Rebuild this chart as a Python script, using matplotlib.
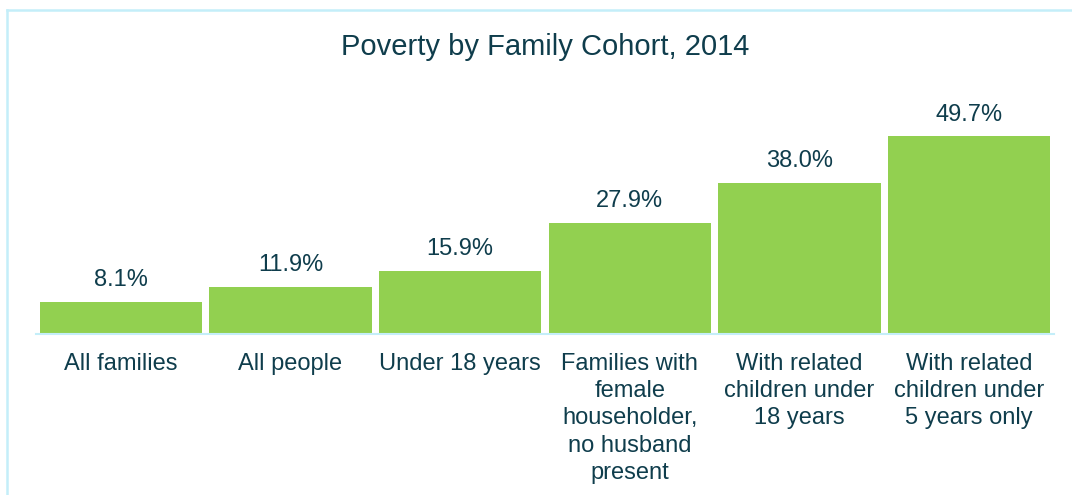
import matplotlib
matplotlib.use('Agg')
import matplotlib.pyplot as plt
from matplotlib.lines import Line2D

categories = ["All families", "All people", "Under 18 years",
              "Families with\nfemale\nhouseholder,\nno husband\npresent",
              "With related\nchildren under\n18 years",
              "With related\nchildren under\n5 years only"]
values = [8.1, 11.9, 15.9, 27.9, 38.0, 49.7]
value_labels = ["8.1%", "11.9%", "15.9%", "27.9%", "38.0%", "49.7%"]

text_color = "#0f3d4c"
bar_color = "#92d050"
line_color = "#c4eef9"

plt.rcParams['font.family'] = ['Liberation Sans', 'DejaVu Sans']

fig = plt.figure(figsize=(10.72, 4.95), dpi=100)
W, H = 1072, 495
# axes in pixel coords: x 36..1054, y baseline 334, top 95
ax = fig.add_axes([36 / W, 1 - 334 / H, (1054 - 36) / W, (334 - 95.2) / H])

x = range(len(categories))
ax.bar(x, values, width=0.955, color=bar_color)
ax.set_xlim(-0.5, len(categories) - 0.5)
ax.set_ylim(0, 60)

for xi, v, lab in zip(x, values, value_labels):
    ax.annotate(lab, (xi, v), xytext=(0, 15.5), textcoords='offset points',
                ha='center', va='center', fontsize=17, color=text_color)

ax.set_xticks(list(x))
ax.set_xticklabels(categories, fontsize=17, color=text_color, linespacing=1.31)
ax.tick_params(axis='x', length=0, pad=13.5)
ax.set_yticks([])
for s in ['top', 'right', 'left']:
    ax.spines[s].set_visible(False)
ax.spines['bottom'].set_color(line_color)
ax.spines['bottom'].set_linewidth(1.5)

fig.text(545 / W, 1 - 47 / H, "Poverty by Family Cohort, 2014", ha='center', va='center',
         fontsize=21, color=text_color)

# outer frame (left and top edges visible)
fig.add_artist(Line2D([7 / W, 7 / W], [0, 1 - 10 / H], transform=fig.transFigure,
                      color=line_color, linewidth=1.8))
fig.add_artist(Line2D([7 / W, 1], [1 - 10 / H, 1 - 10 / H], transform=fig.transFigure,
                      color=line_color, linewidth=1.8))

fig.savefig("out.png", dpi=100)
